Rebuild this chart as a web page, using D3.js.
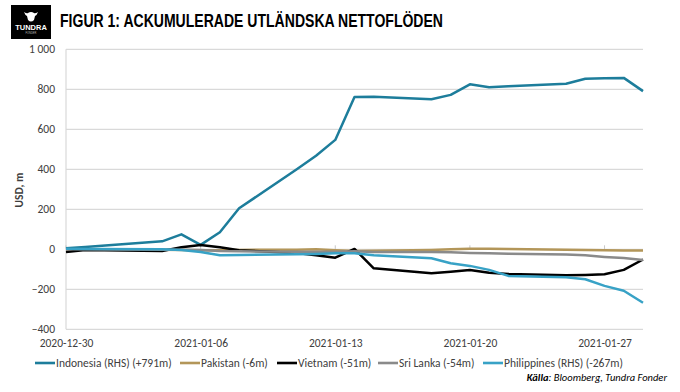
<!DOCTYPE html>
<html><head><meta charset="utf-8">
<script src="https://cdn.jsdelivr.net/npm/d3@7"></script>
<style>
html,body{margin:0;padding:0;background:#fff;}
svg{display:block;}
</style></head>
<body>
<svg id="chart" width="680" height="392"></svg>
<script>
// ---- data ----
const dates = ["2020-12-30","2020-12-31","2021-01-04","2021-01-05","2021-01-06","2021-01-07","2021-01-08",
  "2021-01-11","2021-01-12","2021-01-13","2021-01-14","2021-01-15","2021-01-18","2021-01-19","2021-01-20",
  "2021-01-21","2021-01-22","2021-01-25","2021-01-26","2021-01-27","2021-01-28","2021-01-29"];
const indonesia  = [5, 12, 40, 75, 22, 85, 205, 400, 468, 547, 762, 763, 750, 772, 825, 810, 815, 828, 853, 855, 857, 791];
const pakistan   = [0, 0, -2, -3, -5, -5, -3, -2, 0, -5, -8, -7, -3, 0, 3, 3, 2, -2, -4, -5, -6, -6];
const vietnam    = [-13, -3, -8, 10, 22, 10, -5, -18, -30, -42, 2, -95, -120, -112, -103, -117, -123, -130, -128, -125, -103, -51];
const sriLanka   = [0, 0, -2, -2, -3, -8, -10, -12, -12, -12, -10, -13, -13, -15, -18, -20, -22, -26, -30, -38, -44, -54];
const philippines= [3, 2, 0, -3, -13, -30, -28, -25, -23, -20, -20, -30, -45, -70, -83, -103, -133, -140, -150, -183, -207, -267];
const seriesNames = ["Indonesia (RHS) (+791m)","Pakistan (-6m)","Vietnam (-51m)","Sri Lanka (-54m)","Philippines (RHS) (-267m)"];
const seriesColors = ["#1d7d9b","#b39659","#000000","#8a8a8a","#38a2c6"];
const yTicks = [-400,-200,0,200,400,600,800,1000];
const xTickLabels = ["2020-12-30","2021-01-06","2021-01-13","2021-01-20","2021-01-27"];
const titleText = "FIGUR 1: ACKUMULERADE UTLÄNDSKA NETTOFLÖDEN";

const seriesValues = [indonesia, pakistan, vietnam, sriLanka, philippines];
const parse = d3.utcParse("%Y-%m-%d");
const dts = dates.map(parse);

const svg = d3.select("#chart");
const font = "Carlito, Calibri, Lato, 'Liberation Sans', sans-serif";

// logo
const logo = svg.append("g");
logo.append("rect").attr("x",11).attr("y",5).attr("width",40).attr("height",34).attr("fill","#000");
logo.append("path").attr("fill","#fff")
  .attr("d","M24,12 Q27,14 28,13 Q31,11 34,13 Q35,14 38,12 Q37,15 35,16 L34,20 Q31,23 28,20 L27,16 Q25,15 24,12 Z");
logo.append("text").attr("x",31).attr("y",29.5).attr("text-anchor","middle")
  .attr("font-family","'Liberation Sans Narrow','Liberation Sans',sans-serif").attr("font-weight","bold")
  .attr("font-size",7.5).attr("fill","#fff").text("TUNDRA");
logo.append("text").attr("x",31).attr("y",34).attr("text-anchor","middle")
  .attr("font-family","'Liberation Sans',sans-serif").attr("font-size",2.6).attr("fill","#bbb").text("FONDER");

// title
svg.append("text").attr("x",60).attr("y",27)
  .attr("font-family","'Liberation Sans Narrow','Arial Narrow','Liberation Sans',sans-serif")
  .attr("font-weight","bold").attr("font-size",17.5).attr("fill","#000")
  .attr("textLength",383).attr("lengthAdjust","spacingAndGlyphs")
  .text(titleText);

// scales
const x = d3.scaleUtc().domain([parse("2020-12-30"), parse("2021-01-29")]).range([66, 643]);
const y = d3.scaleLinear().domain([-400, 1000]).range([329.3, 49.3]);

// grid
svg.append("g").selectAll("line").data(yTicks).join("line")
  .attr("x1",66).attr("x2",643).attr("y1",d=>y(d)).attr("y2",d=>y(d))
  .attr("stroke","#d9d9d9").attr("stroke-width",1.2);
svg.append("line").attr("x1",66).attr("x2",66).attr("y1",y(1000)).attr("y2",y(-400))
  .attr("stroke","#d9d9d9").attr("stroke-width",1.2);

// y axis labels
const yAxis = d3.axisLeft(y).tickValues(yTicks).tickSize(0).tickPadding(0)
  .tickFormat(d => d3.format(",")(d).replace(",", " "));
const ya = svg.append("g").attr("transform","translate(55,0)").call(yAxis);
ya.select(".domain").remove();
ya.selectAll("text").attr("font-family",font).attr("font-size",11.5).attr("fill","#404040");

// x axis labels at bottom
const xAxis = d3.axisBottom(x).tickValues(xTickLabels.map(parse)).tickSize(0).tickPadding(0)
  .tickFormat(d3.utcFormat("%Y-%m-%d"));
const xa = svg.append("g").attr("transform","translate(0,339)").call(xAxis);
xa.select(".domain").remove();
xa.selectAll("text").attr("font-family",font).attr("font-size",11.5).attr("fill","#404040");

// small ticks at zero line
svg.append("g").selectAll("line").data(xTickLabels.map(parse)).join("line")
  .attr("x1",d=>x(d)).attr("x2",d=>x(d)).attr("y1",y(0)-4).attr("y2",y(0))
  .attr("stroke","#c8c8c8").attr("stroke-width",1);

// y title
svg.append("text").attr("transform","translate(23,190) rotate(-90)").attr("text-anchor","middle")
  .attr("font-family",font).attr("font-size",11.5).attr("font-weight","bold").attr("fill","#404040")
  .text("USD, m");

// lines
const line = d3.line().x((d,i)=>x(dts[i])).y(d=>y(d));
const order = [0,1,2,3,4];
svg.append("g").selectAll("path").data(order).join("path")
  .attr("d", k => line(seriesValues[k]))
  .attr("fill","none").attr("stroke", k => seriesColors[k]).attr("stroke-width",2.5)
  .attr("stroke-linejoin","round");

// legend
const legendX = [35, 180, 277, 378, 483];
const lg = svg.append("g").selectAll("g").data(order).join("g")
  .attr("transform", k => `translate(${legendX[k]},363)`);
lg.append("line").attr("x1",0).attr("x2",20).attr("y1",0).attr("y2",0)
  .attr("stroke",k=>seriesColors[k]).attr("stroke-width",2.6);
lg.append("text").attr("x",21).attr("y",4).attr("font-family",font).attr("font-size",11.5)
  .attr("fill","#404040").text(k=>seriesNames[k]);

// source
const src = svg.append("text").attr("x",667).attr("y",381).attr("text-anchor","end")
  .attr("font-family",font).attr("font-size",10.5).attr("font-style","italic").attr("fill","#000");
src.append("tspan").attr("font-weight","bold").text("Källa");
src.append("tspan").text(": Bloomberg, Tundra Fonder");
</script>
</body></html>
